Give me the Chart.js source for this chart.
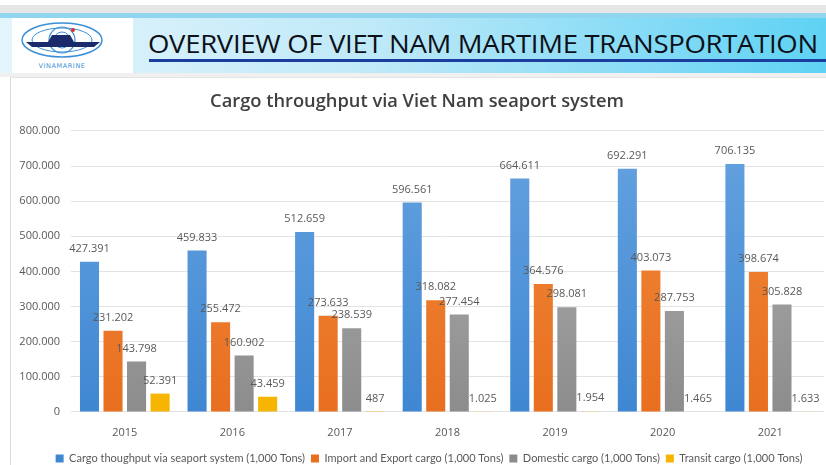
<!DOCTYPE html>
<html>
<head>
<meta charset="utf-8">
<script src="https://cdn.jsdelivr.net/npm/chart.js@4"></script>
<style>
    html, body { margin: 0; padding: 0; width: 826px; height: 465px; overflow: hidden; background: #ffffff; font-family: "Open Sans", sans-serif; }
    #topStrip { position: absolute; left: 0; top: 5px; width: 826px; height: 8px; background: #e6e6e6; }
    #banner { position: absolute; left: 0; top: 13px; width: 826px; height: 60px;
        background: linear-gradient(to right, #e4f5fc 0%, #bfe9f8 45%, #5fd2f4 100%); }
    #bannerTop { position: absolute; left: 0; top: 13px; width: 826px; height: 5px; background: #8fd6ee; }
    #logoBox { position: absolute; left: 12px; top: 18px; width: 121px; height: 55px; background: #ffffff; }
    #headTitle { position: absolute; left: 148px; top: 25px; font-family: "Open Sans", sans-serif; font-size: 26px; font-weight: 500;
        color: #0c1018; white-space: nowrap; transform-origin: 0 0; letter-spacing: -0.3px; }
    #headLine { position: absolute; left: 149px; top: 59px; width: 677px; height: 3px; background: #1b3d9e; }
    #sep { position: absolute; left: 0; top: 73px; width: 826px; height: 4px; background: #f0f0f0; }
    #panel { position: absolute; left: 10px; top: 77px; width: 820px; height: 390px; border-left: 1px solid #d9d9d9; border-top: 1px solid #e3e3e3; }
    #cargoChart { position: absolute; left: 10px; top: 77px; }
</style>
</head>
<body>
<div id="topStrip"></div>
<div id="banner"></div>
<div id="bannerTop"></div>
<div id="logoBox">
    <svg width="121" height="55" viewBox="0 0 121 55">
        <ellipse cx="50" cy="22" rx="40" ry="17" fill="none" stroke="#3b8fd6" stroke-width="1.5"/>
        <ellipse cx="50" cy="22" rx="30" ry="12" fill="none" stroke="#3b8fd6" stroke-width="1"/>
        <circle cx="50" cy="22" r="13" fill="none" stroke="#3b8fd6" stroke-width="1.2"/>
        <circle cx="50" cy="22" r="8" fill="none" stroke="#3b8fd6" stroke-width="1"/>
        <path d="M14 24 L88 24 L82 29 L20 29 Z" fill="#1b2a6b"/>
        <path d="M36 24 L40 17 L58 17 L62 24 Z" fill="#1b2a6b"/>
        <circle cx="61" cy="12" r="2" fill="#e0302a"/>
        <text x="50" y="50" text-anchor="middle" font-family="DejaVu Sans" font-size="6.5" fill="#3b8fd6" letter-spacing="0.6">VINAMARINE</text>
    </svg>
</div>
<div id="headTitle">OVERVIEW OF VIET NAM MARTIME TRANSPORTATION</div>
<div id="headLine"></div>
<div id="sep"></div>
<div id="panel"></div>
<canvas id="cargoChart" width="816" height="397"></canvas>

<script>
const years = ["2015", "2016", "2017", "2018", "2019", "2020", "2021"];
const cargoThroughput = [427391, 459833, 512659, 596561, 664611, 692291, 706135];
const importExport = [231202, 255472, 273633, 318082, 364576, 403073, 398674];
const domesticCargo = [143798, 160902, 238539, 277454, 298081, 287753, 305828];
const transitCargo = [52391, 43459, 487, 1025, 1954, 1465, 1633];
const yTicks = [0, 100000, 200000, 300000, 400000, 500000, 600000, 700000, 800000];

function fmt(v) {
    return String(v).replace(/\B(?=(\d{3})+(?!\d))/g, ".");
}

// fit header title to the width it has in the picture
const head = document.getElementById("headTitle");
head.style.transform = "scaleX(" + (670 / head.offsetWidth) + ")";

function barGradient(top, bottom) {
    return function (context) {
        const area = context.chart.chartArea;
        if (!area) return bottom;
        const g = context.chart.ctx.createLinearGradient(0, area.top, 0, area.bottom);
        g.addColorStop(0, top);
        g.addColorStop(1, bottom);
        return g;
    };
}

// value labels above every bar
const valueLabels = {
    id: "valueLabels",
    afterDatasetsDraw(chart) {
        const ctx = chart.ctx;
        ctx.save();
        ctx.font = "11px 'Open Sans'";
        ctx.fillStyle = "#595959";
        ctx.textAlign = "center";
        ctx.textBaseline = "middle";
        chart.data.datasets.forEach((ds, i) => {
            chart.getDatasetMeta(i).data.forEach((bar, j) => {
                ctx.fillText(fmt(ds.data[j]), bar.x, bar.y - 13);
            });
        });
        ctx.restore();
    }
};

// the original chart is cut off on the right, so its legend sits a bit right of centre
const legendShift = {
    id: "legendShift",
    afterLayout(chart) {
        chart.legend.left += 12;
        chart.legend.right += 12;
    }
};

const ctx = document.getElementById("cargoChart").getContext("2d");
const chart = new Chart(ctx, {
    type: "bar",
    data: {
        labels: years,
        datasets: [{
            label: "Cargo thoughput via seaport system (1,000 Tons)",
            data: cargoThroughput,
            backgroundColor: barGradient("#66a3e0", "#3f87d2")
        }, {
            label: "Import and Export cargo (1,000 Tons)",
            data: importExport,
            backgroundColor: barGradient("#f28a3d", "#e86f1f")
        }, {
            label: "Domestic cargo (1,000 Tons)",
            data: domesticCargo,
            backgroundColor: barGradient("#b3b3b3", "#8c8c8c")
        }, {
            label: "Transit cargo (1,000 Tons)",
            data: transitCargo,
            backgroundColor: barGradient("#ffcb1f", "#f5b400")
        }]
    },
    options: {
        responsive: false,
        animation: false,
        devicePixelRatio: 1,
        categoryPercentage: 0.875,
        barPercentage: 0.81,
        layout: { padding: { left: 0, right: 2, top: 0, bottom: 0 } },
        plugins: {
            title: {
                display: true,
                text: "Cargo throughput via Viet Nam seaport system",
                color: "#404040",
                font: { family: "Open Sans", size: 18.3, weight: "600" },
                padding: { top: 14, bottom: 18 }
            },
            legend: {
                position: "bottom",
                labels: {
                    color: "#595959",
                    font: { family: "Lato", size: 11 },
                    boxWidth: 8,
                    boxHeight: 8,
                    padding: 6
                }
            },
            tooltip: { enabled: false }
        },
        scales: {
            x: {
                grid: { display: false },
                border: { display: false },
                ticks: { color: "#595959", font: { family: "Open Sans", size: 11 }, padding: 6 },
                afterFit: scale => { scale.height = 35; }
            },
            y: {
                min: 0,
                max: 800000,
                afterBuildTicks: scale => { scale.ticks = yTicks.map(v => ({ value: v })); },
                grid: { color: "#e3e3e3", drawTicks: false },
                border: { display: false },
                ticks: {
                    color: "#595959",
                    font: { family: "Open Sans", size: 11 },
                    padding: 11,
                    callback: v => fmt(v)
                },
                afterFit: scale => { scale.width = 61; }
            }
        }
    },
    plugins: [valueLabels, legendShift]
});
</script>
</body>
</html>
